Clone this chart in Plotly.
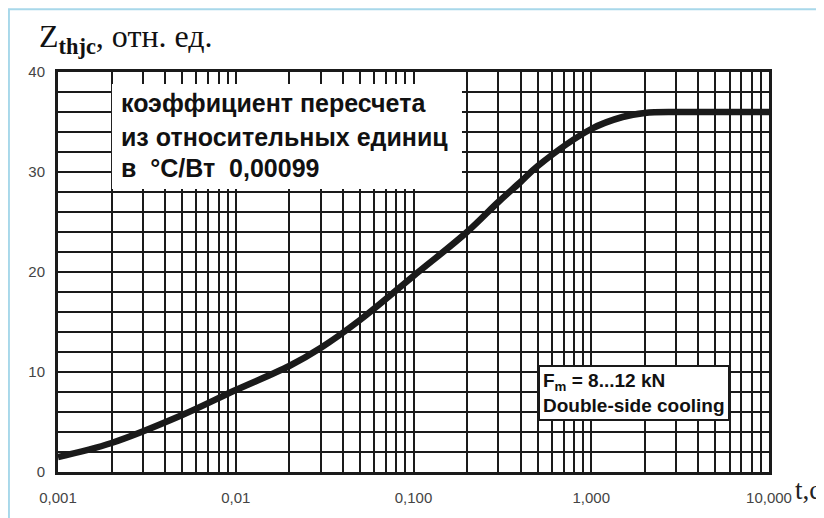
import plotly.graph_objects as go

# data
t_values = [0.001, 0.002, 0.005, 0.01, 0.02, 0.03, 0.05, 0.1, 0.2, 0.3, 0.4, 0.5, 1.0, 1.5, 2.0, 3.0, 5.0, 10.0]
z_values = [1.5, 2.9, 5.7, 8.2, 10.6, 12.4, 15.2, 19.6, 24.0, 27.0, 29.0, 30.6, 34.3, 35.5, 35.9, 36.0, 36.0, 36.0]

x_major = [0.001, 0.01, 0.1, 1.0, 10.0]
x_major_labels = ["0,001", "0,01", "0,100", "1,000", "10,000"]
y_major = [0, 10, 20, 30, 40]

note_lines = ["коэффициент пересчета", "из относительных единиц", "в  °С/Вт  0,00099"]

x_grid = []
x_text = []
for d in [0.001, 0.01, 0.1, 1.0]:
    for m in range(1, 10):
        v = round(d * m, 6)
        x_grid.append(v)
        x_text.append(x_major_labels[x_major.index(v)] if v in x_major else "")
x_grid.append(10.0)
x_text.append("10,000")

y_grid = list(range(0, 41, 2))
y_text = [str(v) if v in y_major else "" for v in y_grid]

fig = go.Figure()
fig.add_trace(go.Scatter(
    x=t_values, y=z_values, mode="lines",
    line=dict(color="#1a1a1a", width=6.5, shape="spline", smoothing=1.0),
    hoverinfo="skip", showlegend=False,
))

fig.update_layout(
    width=816, height=510,
    margin=dict(l=50, r=55, t=64, b=43),
    paper_bgcolor="white", plot_bgcolor="white",
    font=dict(family="Liberation Sans, Arial", color="#333"),
    showlegend=False,
)
fig.update_xaxes(
    type="log", range=[-3, 1],
    tickmode="array", tickvals=x_grid, ticktext=x_text,
    showgrid=True, gridcolor="#1a1a1a", gridwidth=2,
    ticks="", ticklabelstandoff=10,
    tickfont=dict(size=15, color="#444"),
    showline=True, linecolor="#1a1a1a", linewidth=3, mirror=True,
    zeroline=False,
)
fig.update_yaxes(
    range=[0, 40],
    tickmode="array", tickvals=y_grid, ticktext=y_text,
    showgrid=True, gridcolor="#1a1a1a", gridwidth=2,
    ticks="", ticklabelstandoff=7,
    tickfont=dict(size=15, color="#444"),
    showline=True, linecolor="#1a1a1a", linewidth=3, mirror=True,
    zeroline=False,
)

# outer light-blue frame
fig.add_shape(type="rect", xref="paper", yref="paper",
              x0=-0.069, x1=1.2, y0=-0.3, y1=1.157,
              line=dict(color="#a8d8ea", width=2), fillcolor="rgba(0,0,0,0)", layer="below")

# white panel behind the note
fig.add_shape(type="rect", xref="paper", yref="paper",
              x0=0.0759, x1=0.5682, y0=0.7072, y1=0.9702,
              line=dict(width=0), fillcolor="white", layer="above")

# title
fig.add_annotation(xref="paper", yref="paper", x=-0.03, y=1.085, xanchor="left", yanchor="middle",
                   text="Z<sub><b>thjc</b></sub>, отн. ед.", showarrow=False,
                   font=dict(family="Liberation Serif, Times New Roman", size=32, color="#111"))
# x axis label
fig.add_annotation(xref="paper", yref="paper", x=1.034, y=-0.045, xanchor="left", yanchor="middle",
                   text="t,c", showarrow=False,
                   font=dict(family="Liberation Serif, Times New Roman", size=27, color="#222"))

# conversion note lines
for line, ypos in zip(note_lines, [0.9231, 0.8387, 0.7593]):
    fig.add_annotation(xref="paper", yref="paper", x=0.0858, y=ypos, xanchor="left", yanchor="middle",
                       text="<b>" + line + "</b>", showarrow=False, align="left",
                       font=dict(family="Liberation Sans, Arial", size=25, color="#111"))

# cooling box
fig.add_annotation(xref="paper", yref="paper", x=0.6751, y=0.2680, xanchor="left", yanchor="top",
                   text="<b>F<sub>m</sub> = 8...12 kN<br>Double-side cooling</b>",
                   showarrow=False, align="left", bgcolor="white",
                   bordercolor="#1a1a1a", borderwidth=2, borderpad=3,
                   font=dict(family="Liberation Sans, Arial", size=19, color="#111"))

fig.write_html("out.html")
